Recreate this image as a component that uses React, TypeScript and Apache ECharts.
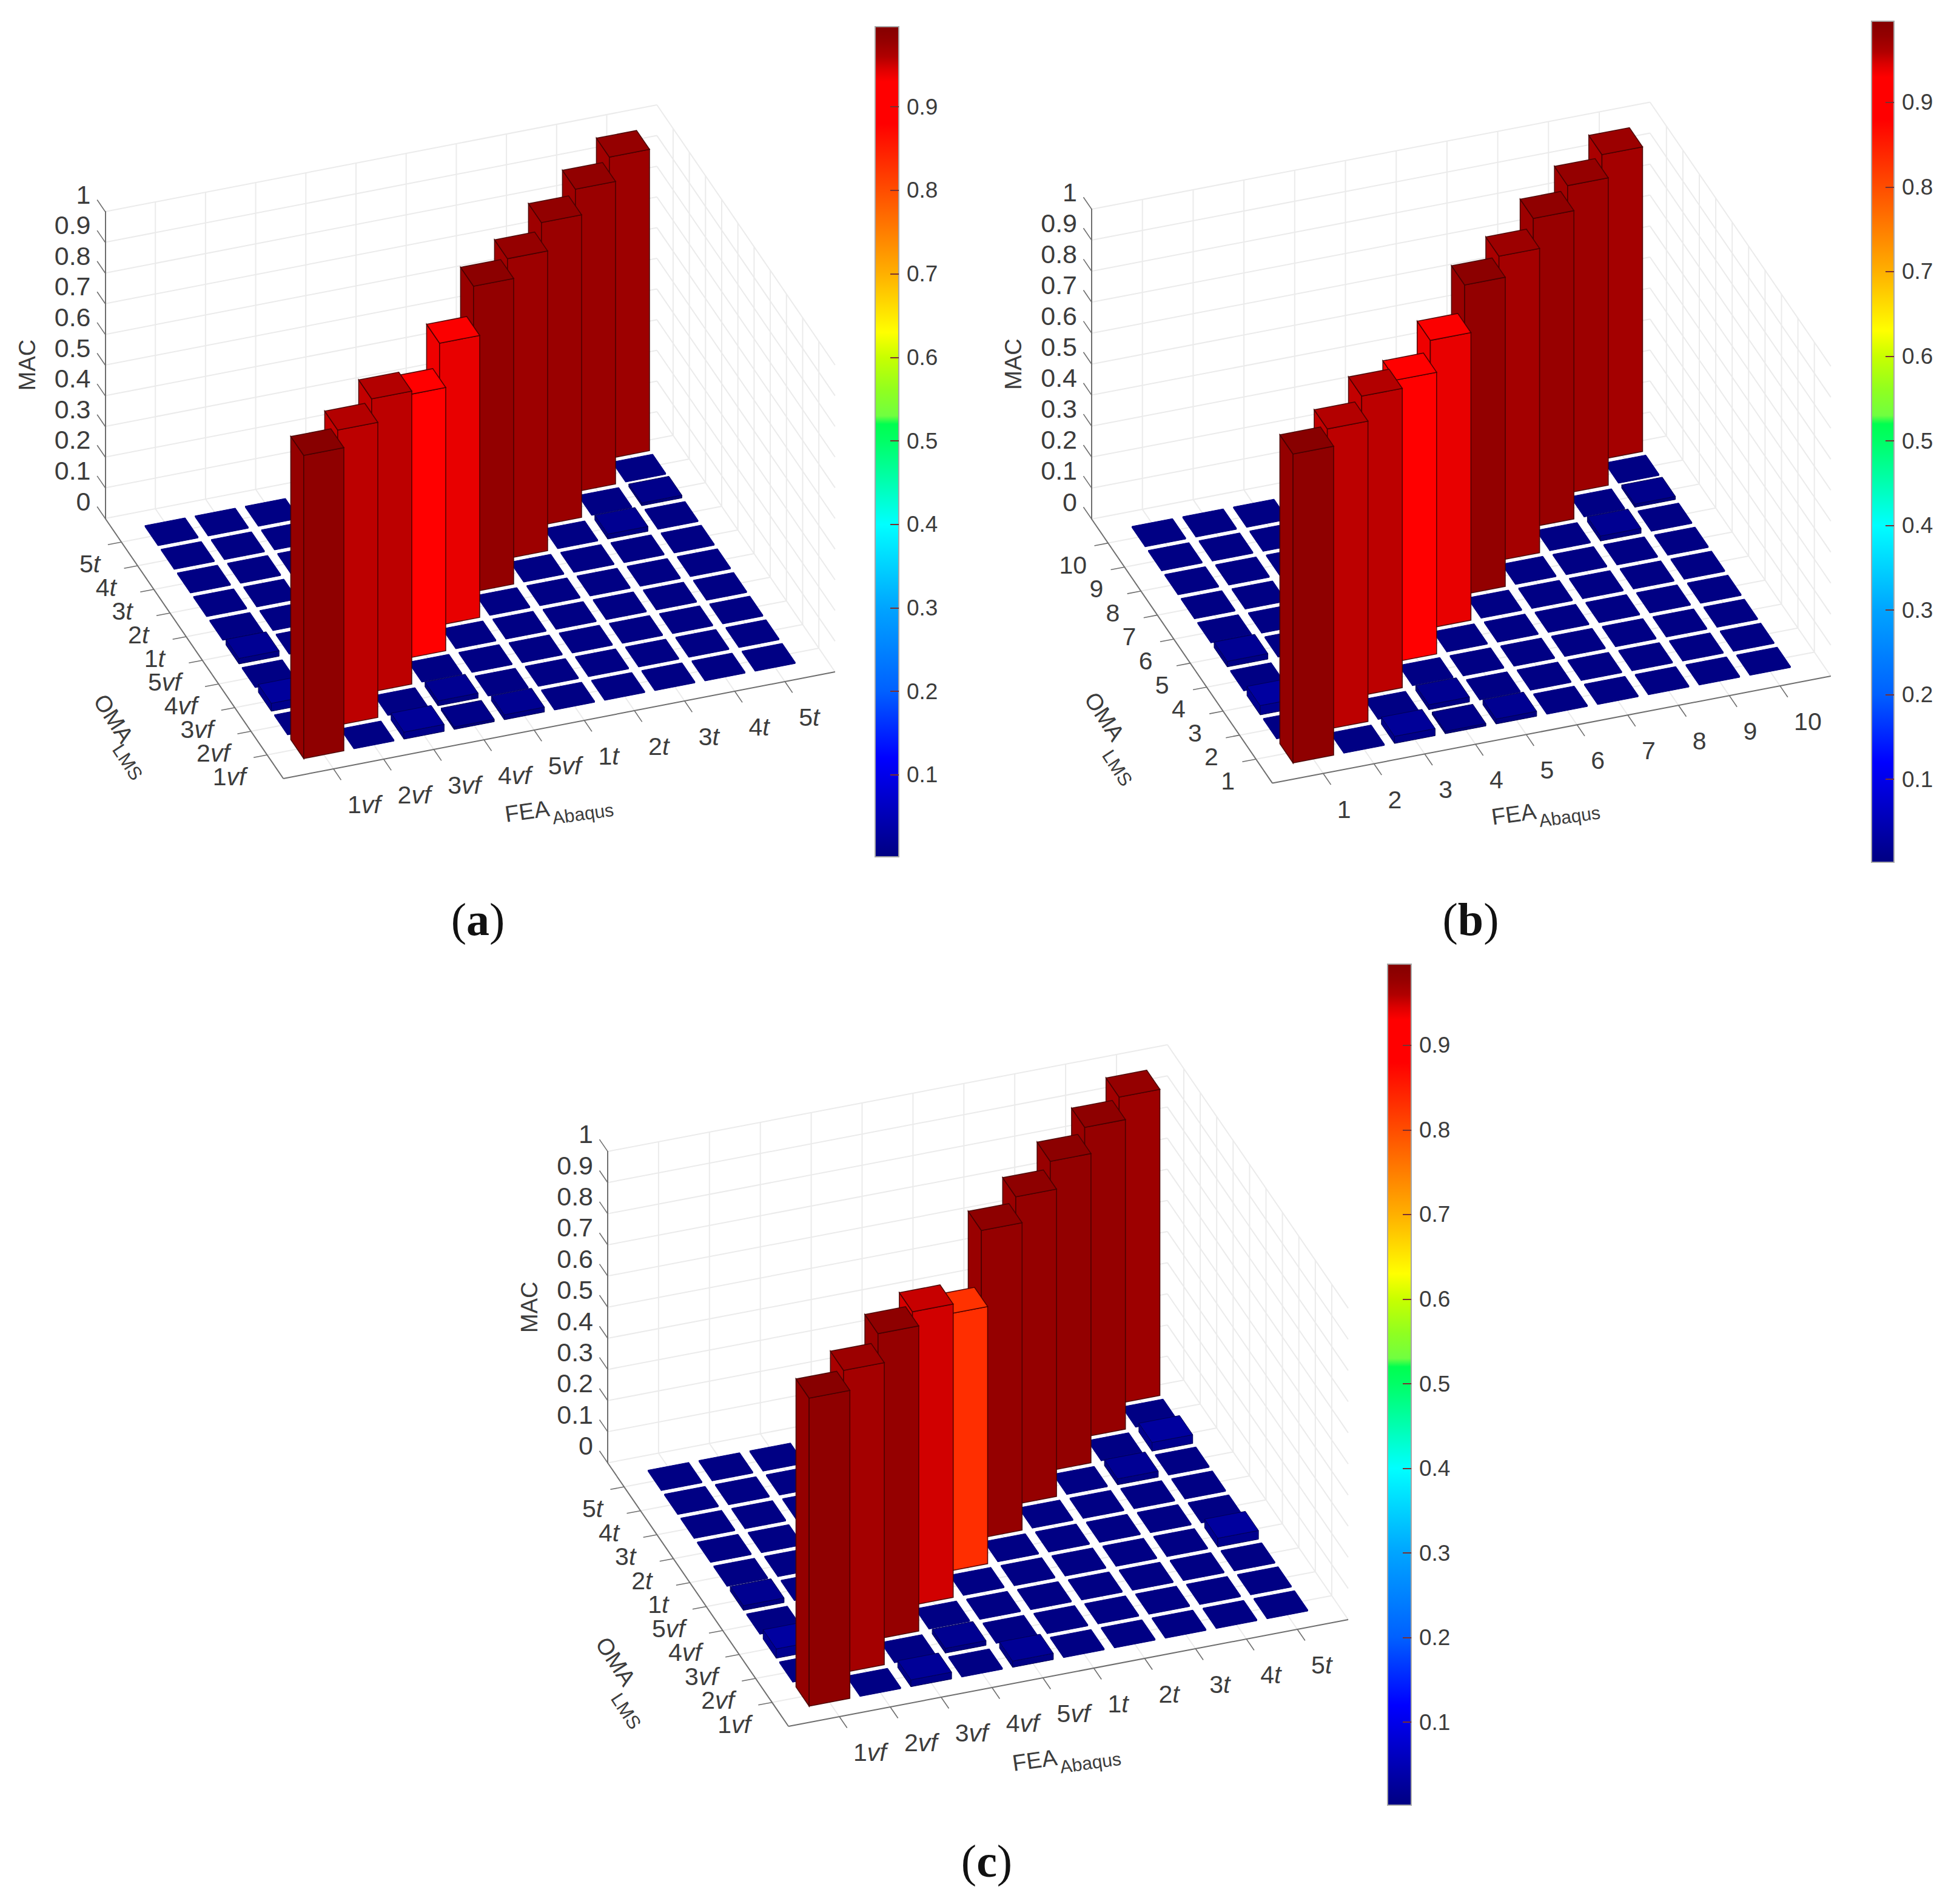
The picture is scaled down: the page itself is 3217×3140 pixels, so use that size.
import React, { useEffect, useRef } from "react";
import * as echarts from "echarts";

// ---------- data ----------
const modalLabels = ["1vf", "2vf", "3vf", "4vf", "5vf", "1t", "2t", "3t", "4t", "5t"];
const numberLabels = ["1", "2", "3", "4", "5", "6", "7", "8", "9", "10"];
const zTicks = [0, 0.1, 0.2, 0.3, 0.4, 0.5, 0.6, 0.7, 0.8, 0.9, 1];
const colorbarTicks = [0.1, 0.2, 0.3, 0.4, 0.5, 0.6, 0.7, 0.8, 0.9];

// diagonal MAC heights
const diagonalA = [0.988, 0.962, 0.955, 0.858, 0.919, 0.996, 0.977, 0.986, 0.986, 0.982];
const diagonalB = [0.997, 0.969, 0.966, 0.909, 0.928, 0.998, 0.982, 0.995, 0.992, 0.983];
const diagonalC = [0.989, 0.97, 0.98, 0.942, 0.826, 0.987, 0.987, 0.993, 0.994, 0.983];
// colour level of each diagonal bar
const levelsA = [0.984, 0.956, 0.956, 0.91, 0.94, 0.98, 0.973, 0.975, 0.975, 0.973];
const levelsB = [0.984, 0.956, 0.956, 0.91, 0.94, 0.98, 0.968, 0.976, 0.973, 0.968];
const levelsC = [0.984, 0.968, 0.978, 0.949, 0.832, 0.978, 0.978, 0.98, 0.978, 0.973];
// off-diagonal cells that stand visibly above the floor: [FEA index, OMA index, MAC]
const raisedA = [[3, 1, 0.023], [5, 1, 0.016], [4, 2, 0.016], [1, 3, 0.026], [1, 5, 0.018], [9, 7, 0.016], [10, 8, 0.009], [4, 1, 0.008]];
const raisedB = [[3, 1, 0.023], [5, 1, 0.016], [4, 2, 0.016], [1, 3, 0.03], [1, 5, 0.018], [9, 7, 0.016], [10, 8, 0.01], [4, 1, 0.008]];
const raisedC = [[3, 1, 0.022], [5, 1, 0.02], [4, 2, 0.015], [1, 3, 0.03], [1, 5, 0.015], [9, 7, 0.019], [10, 8, 0.028], [10, 4, 0.028]];
const floorMAC = 0.004;

// colour map
const mapLevels = [0, 0.12, 0.2, 0.3, 0.4, 0.45, 0.5, 0.52, 0.53, 0.56, 0.6, 0.63, 0.7, 0.8, 0.88, 0.93, 0.945, 0.96, 0.978, 1];
const mapColors = ["#000080", "#0000ff", "#0060ff", "#00a4ff", "#00ffff", "#00ffb0", "#00ff66", "#00ff50", "#70ff40", "#90ff20", "#c8ff00", "#ffff00", "#ffb000", "#ff4d00", "#ff0000", "#ff0000", "#dd0000", "#b00000", "#950000", "#800000"];

// ---------- layout ----------
const CELLS = 11; // axis runs 0..11
const panels = [
  { A: [173.5, 855], ex: [82.7, -16], ey: [-26.7, -39], H: 506, diag: diagonalA, levels: levelsA, raised: raisedA, labels: modalLabels, italic: true,
    fea: [402, 54], oma: [-280, -99], lms: [-257, -27],
    cb: { left: 1443, top: 44, width: 39, height: 1369, min: 0.0019, max: 0.996 }, caption: "a", cap: [788, 1516] },
  { A: [1800, 856], ex: [83.7, -16.05], ey: [-27.1, -39.6], H: 511, diag: diagonalB, levels: levelsB, raised: raisedB, labels: numberLabels, italic: false,
    fea: [398, 51], oma: [-277, -110], lms: [-256, -25],
    cb: { left: 3086, top: 35, width: 37, height: 1387, min: 0.0019, max: 0.996 }, caption: "b", cap: [2425, 1516] },
  { A: [1002, 2412.5], ex: [83.9, -16], ey: [-27.1, -39.5], H: 513.6, diag: diagonalC, levels: levelsC, raised: raisedC, labels: modalLabels, italic: true,
    fea: [406, 56], oma: [-285, -107], lms: [-268, -25],
    cb: { left: 2288, top: 1590, width: 39, height: 1387, min: 0.0019, max: 0.996 }, caption: "c", cap: [1627, 3069] },
];

const SANS = "Liberation Sans";
const TEXT = "#3c3c3c";
const GRID = "#ebebeb";
const AXIS = "#6e6e6e";

const hexRgb = (h: string) => [parseInt(h.slice(1, 3), 16), parseInt(h.slice(3, 5), 16), parseInt(h.slice(5, 7), 16)];
function levelRgb(v: number) {
  let k = 0;
  while (k < mapLevels.length - 2 && v > mapLevels[k + 1]) k++;
  const t = Math.max(0, Math.min(1, (v - mapLevels[k]) / (mapLevels[k + 1] - mapLevels[k])));
  const a = hexRgb(mapColors[k]);
  const b = hexRgb(mapColors[k + 1]);
  return a.map((c, n) => c + (b[n] - c) * t);
}
const css = (c: number[], f = 1) => `rgb(${c.map((x) => Math.min(255, Math.round(x * f))).join(",")})`;

function buildCells(p: any) {
  const out: number[][] = [];
  for (let i = 10; i >= 1; i--) {
    for (let j = 10; j >= 1; j--) {
      const extra = p.raised.find((r: number[]) => r[0] === i && r[1] === j);
      const h = i === j ? p.diag[i - 1] : extra ? extra[2] : floorMAC;
      const lvl = i === j ? p.levels[i - 1] : h;
      out.push([i, j, h, lvl]);
    }
  }
  return out;
}

function projector(p: any, api: any) {
  return (x: number, y: number, z: number) => {
    const c = api.coord([x, z]);
    return [c[0] + (y - CELLS) * p.ey[0], c[1] + x * p.ex[1] + (y - CELLS) * p.ey[1]];
  };
}

const seg = (a: number[], b: number[], stroke: string, lineWidth: number) => ({
  type: "line",
  shape: { x1: a[0], y1: a[1], x2: b[0], y2: b[1] },
  style: { stroke, lineWidth, fill: null },
});

function wallsItem(p: any) {
  return (_: any, api: any) => {
    const P = projector(p, api);
    const ch: any[] = [];
    for (const z of zTicks) {
      ch.push(seg(P(0, CELLS, z), P(CELLS, CELLS, z), GRID, 2));
      ch.push(seg(P(CELLS, CELLS, z), P(CELLS, 0, z), GRID, 2));
    }
    for (let k = 1; k <= 10; k++) {
      ch.push(seg(P(k, CELLS, 0), P(k, CELLS, 1), GRID, 2));
      ch.push(seg(P(CELLS, k, 0), P(CELLS, k, 1), GRID, 2));
      ch.push(seg(P(k, 0, 0), P(k, CELLS, 0), GRID, 2));
      ch.push(seg(P(0, k, 0), P(CELLS, k, 0), GRID, 2));
    }
    return { type: "group", children: ch };
  };
}

function cellItem(p: any) {
  return (_: any, api: any) => {
    const P = projector(p, api);
    const i = api.value(0), j = api.value(1), h = api.value(2), lvl = api.value(3);
    const w = 0.4;
    const c = levelRgb(lvl);
    const red = lvl > 0.5;
    const flat = h < 0.0075;
    const stroke = red ? "rgba(70,0,0,0.9)" : flat ? css(c) : "#000055";
    const lw = red ? 1.6 : 1;
    const topFactor = red ? (lvl < 0.945 ? 1.08 : 0.95) : 1;
    const poly = (pts: number[][], fill: string) => ({
      type: "polygon",
      shape: { points: pts },
      style: { fill, stroke, lineWidth: lw },
    });
    const x0 = i - w, x1 = i + w, y0 = j - w, y1 = j + w;
    return {
      type: "group",
      children: [
        poly([P(x0, y0, 0), P(x0, y1, 0), P(x0, y1, h), P(x0, y0, h)], css(c, red ? 1.03 : 0.9)),
        poly([P(x0, y0, 0), P(x1, y0, 0), P(x1, y0, h), P(x0, y0, h)], css(c, red ? 1 : 0.9)),
        poly([P(x0, y0, h), P(x1, y0, h), P(x1, y1, h), P(x0, y1, h)], css(c, topFactor)),
      ],
    };
  };
}

const TICK_SIZE = 41;
function tickText(s: string, italic: boolean) {
  if (!italic) return { text: s };
  const m = s.match(/^(\d+)(\D+)$/);
  return {
    text: `{n|${m![1]}}{i|${m![2]}}`,
    rich: {
      n: { fontFamily: SANS, fontSize: TICK_SIZE, fill: TEXT },
      i: { fontFamily: SANS, fontSize: TICK_SIZE, fontStyle: "italic", fill: TEXT },
    },
  };
}

function axesItem(p: any) {
  return (_: any, api: any) => {
    const P = projector(p, api);
    const ch: any[] = [];
    const B = P(0, 0, 0);
    ch.push(seg(P(0, CELLS, 0), B, AXIS, 2));
    ch.push(seg(B, P(CELLS, 0, 0), AXIS, 2));
    const label = (xy: number[], s: string, align: string) => ({
      type: "text",
      x: xy[0],
      y: xy[1],
      style: { ...tickText(s, p.italic), fontFamily: SANS, fontSize: TICK_SIZE, fill: TEXT, align, verticalAlign: "middle" },
    });
    for (const z of zTicks) ch.push(seg(P(0, CELLS, z), P(0, CELLS + 0.5, z), AXIS, 1.6));
    p.labels.forEach((s: string, n: number) => {
      const k = n + 1;
      const tx = P(k, 0, 0);
      ch.push(seg(tx, P(k, -0.47, 0), AXIS, 1.6));
      ch.push(label([tx[0] + 23, tx[1] + 59], s, "left"));
      const ty = P(0, k, 0);
      ch.push(seg(ty, P(-0.27, k, 0), AXIS, 1.6));
      ch.push(label([ty[0] - 35, ty[1] + 36], s, "right"));
    });
    const word = (at: number[], s: string, size: number, deg: number) => ({
      type: "text",
      x: B[0] + at[0],
      y: B[1] + at[1],
      rotation: (deg * Math.PI) / 180,
      style: { text: s, fontFamily: SANS, fontSize: size, fill: TEXT, align: "center", verticalAlign: "middle" },
    });
    ch.push(word(p.fea, "FEA", 38, 8));
    ch.push(word([p.fea[0] + 92, p.fea[1] + 4], "Abaqus", 30, 8));
    ch.push(word(p.oma, "OMA", 38, -57));
    ch.push(word(p.lms, "LMS", 31, -57));
    return { type: "group", children: ch };
  };
}

function colorbarItem(p: any) {
  return (_: any, api: any) => {
    const a = api.coord([0, p.cb.max]);
    const b = api.coord([1, p.cb.min]);
    const span = p.cb.max - p.cb.min;
    const stops = mapLevels
      .filter((v) => v >= p.cb.min && v <= p.cb.max)
      .map((v) => ({ offset: (p.cb.max - v) / span, color: css(levelRgb(v)) }))
      .reverse();
    stops.unshift({ offset: 0, color: css(levelRgb(p.cb.max)) });
    stops.push({ offset: 1, color: css(levelRgb(p.cb.min)) });
    return {
      type: "rect",
      shape: { x: a[0], y: a[1], width: b[0] - a[0], height: b[1] - a[1] },
      style: { fill: new echarts.graphic.LinearGradient(0, 0, 0, 1, stops), stroke: "#a8a8a8", lineWidth: 2 },
    };
  };
}

function buildOption() {
  const grid: any[] = [], xAxis: any[] = [], yAxis: any[] = [], series: any[] = [];
  panels.forEach((p: any, n) => {
    const g = grid.length;
    grid.push({ left: p.A[0], top: p.A[1] - p.H, width: CELLS * p.ex[0], height: p.H, containLabel: false });
    xAxis.push({ gridIndex: g, type: "value", min: 0, max: CELLS, show: false });
    yAxis.push({
      gridIndex: g, type: "value", min: 0, max: 1, interval: 0.1, z: 1,
      axisLine: { show: true, onZero: false, lineStyle: { color: AXIS, width: 2 } },
      axisTick: { show: false }, splitLine: { show: false },
      axisLabel: { margin: 24, fontFamily: SANS, fontSize: 43, color: TEXT, verticalAlign: "bottom", padding: [0, 0, 7, 0] },
      name: "MAC", nameLocation: "middle", nameGap: 110, nameRotate: 90,
      nameTextStyle: { fontFamily: SANS, fontSize: 38, color: TEXT },
    });
    const sIdx = { xAxisIndex: g, yAxisIndex: g, coordinateSystem: "cartesian2d", type: "custom", silent: true };
    series.push({ ...sIdx, name: `walls ${n}`, z: 1, data: [[0, 0]], renderItem: wallsItem(p) });
    series.push({ ...sIdx, name: `axes ${n}`, z: 2, data: [[0, 0]], renderItem: axesItem(p) });
    series.push({ ...sIdx, name: `MAC ${p.caption}`, z: 3, data: buildCells(p), dimensions: ["fea", "oma", "mac", "level"], encode: { x: 0, y: 2 }, renderItem: cellItem(p) });

    const c = grid.length;
    grid.push({ left: p.cb.left, top: p.cb.top, width: p.cb.width, height: p.cb.height, containLabel: false });
    xAxis.push({ gridIndex: c, type: "value", min: 0, max: 1, show: false });
    yAxis.push({
      gridIndex: c, type: "value", position: "right", min: p.cb.min, max: p.cb.max, z: 5,
      axisLine: { show: false, onZero: false },
      axisTick: { show: true, inside: true, length: 14, customValues: colorbarTicks, lineStyle: { color: "#7a3030", width: 2 } },
      splitLine: { show: false },
      axisLabel: { customValues: colorbarTicks, margin: 13, inside: false, fontFamily: SANS, fontSize: 37, color: TEXT, showMinLabel: true, showMaxLabel: true },
    });
    series.push({ type: "custom", coordinateSystem: "cartesian2d", xAxisIndex: c, yAxisIndex: c, silent: true, z: 1, name: `colorbar ${n}`, data: [[0, p.cb.min, 1, p.cb.max]], renderItem: colorbarItem(p) });
  });
  const graphic = panels.map((p) => ({
    type: "text",
    x: p.cap[0],
    y: p.cap[1],
    style: {
      text: `{p|(}{b|${p.caption}}{p|)}`,
      align: "center",
      verticalAlign: "middle",
      rich: {
        p: { fontFamily: "Liberation Serif", fontSize: 76, fill: "#111" },
        b: { fontFamily: "Liberation Serif", fontSize: 76, fontWeight: "bold", fill: "#111" },
      },
    },
  }));
  return { animation: false, backgroundColor: "#ffffff", grid, xAxis, yAxis, series, graphic };
}

export default function App() {
  const ref = useRef<HTMLDivElement>(null);
  useEffect(() => {
    const chart = echarts.init(ref.current!, undefined, { renderer: "svg" });
    chart.setOption(buildOption() as any);
    return () => chart.dispose();
  }, []);
  return <div ref={ref} style={{ position: "absolute", left: 0, top: 0, width: 3217, height: 3140 }} />;
}
